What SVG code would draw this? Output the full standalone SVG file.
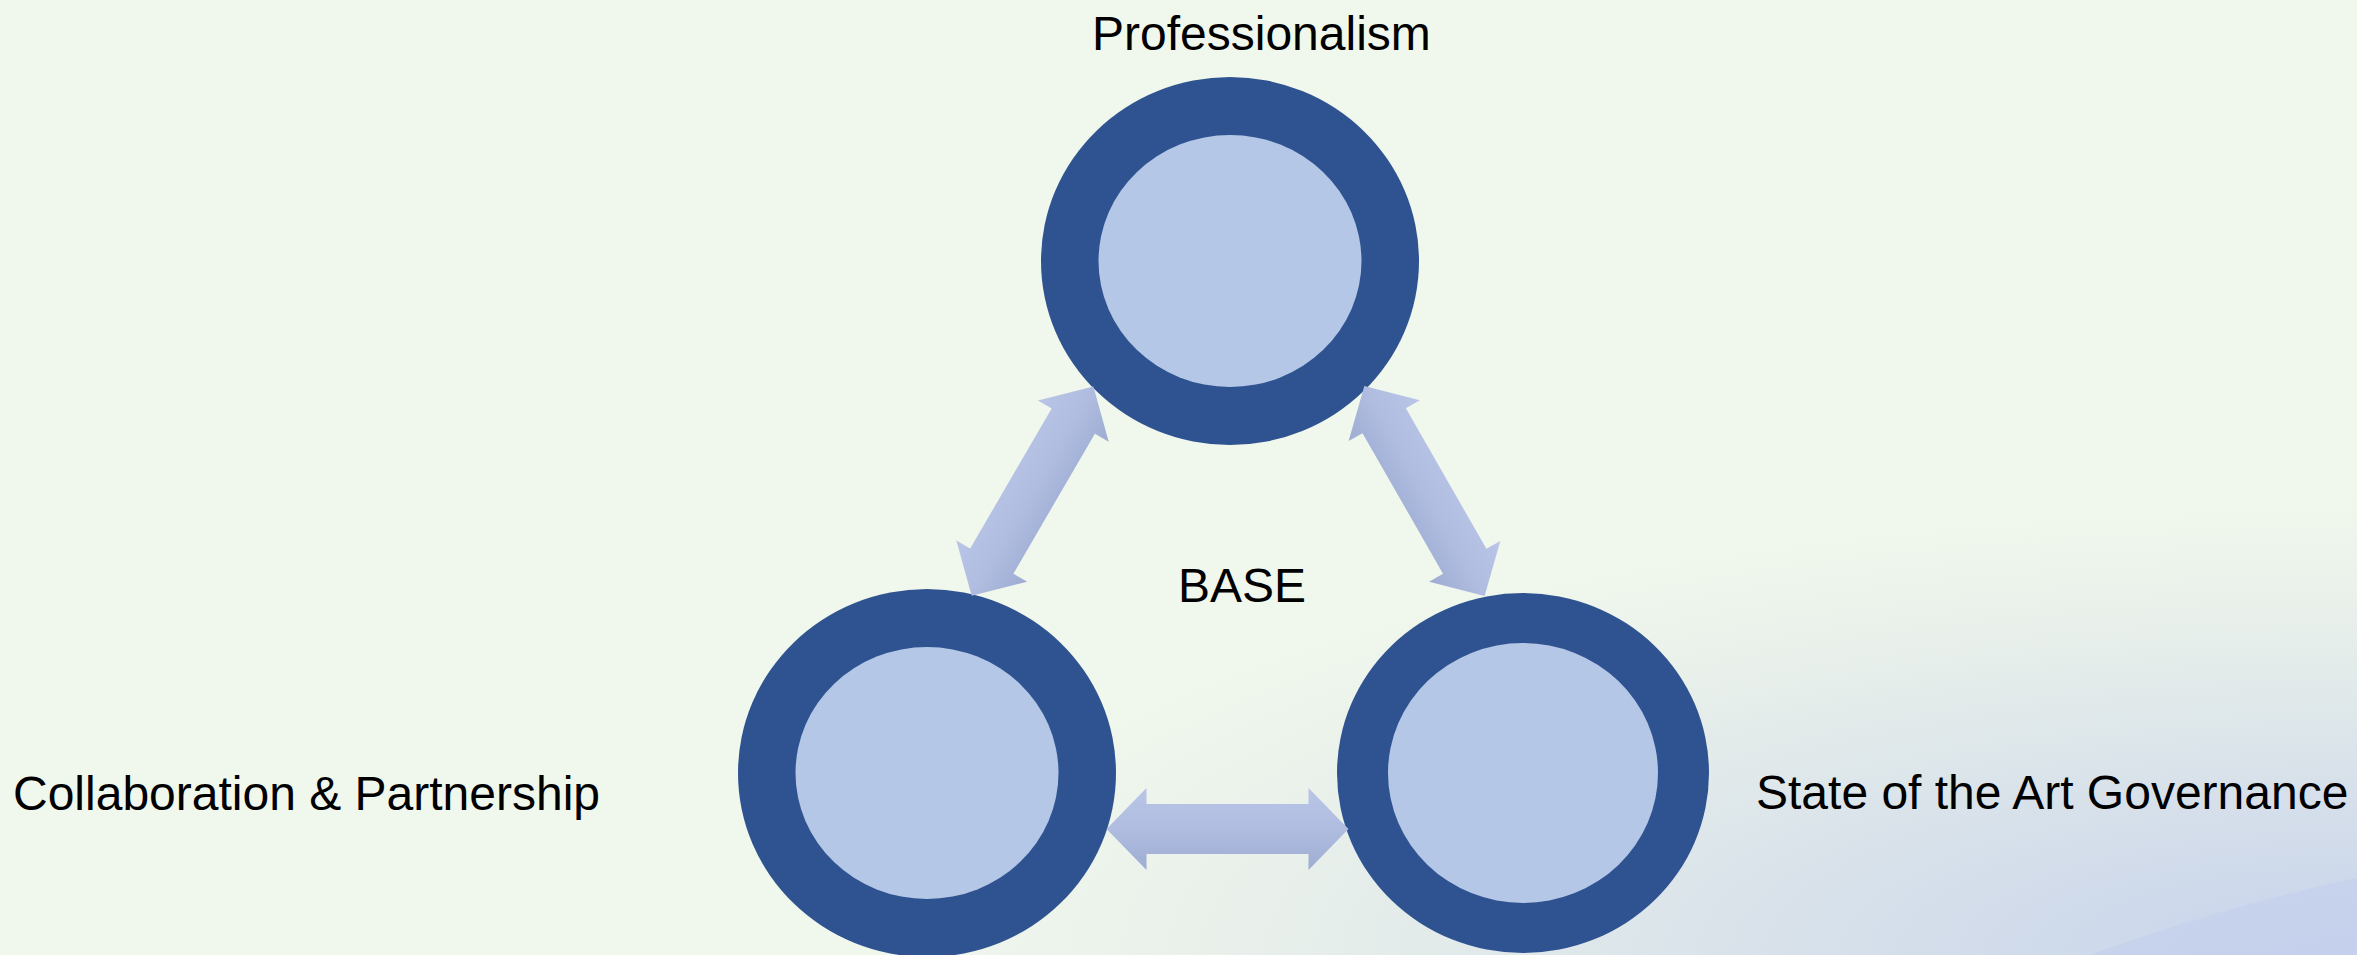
<svg xmlns="http://www.w3.org/2000/svg" xmlns:xlink="http://www.w3.org/1999/xlink" width="2357" height="955" viewBox="0 0 2357 955">
  <style>
    .ring { fill: #2f5390; }
    .core { fill: #b4c7e7; }
    .label { font-family: "Liberation Sans", Arial, sans-serif; font-size: 48px; fill: #000; }
    .arrow { fill: url(#arrowShade); }
  </style>
  <defs>
    <radialGradient id="bgTint" gradientUnits="userSpaceOnUse" cx="2357" cy="955" r="1" gradientTransform="translate(2357 955) scale(1500 460) translate(-2357 -955)">
      <stop offset="0" stop-color="#c6d2ec"/>
      <stop offset="0.45" stop-color="#dbe4ea"/>
      <stop offset="0.8" stop-color="#ebf2eb"/>
      <stop offset="1" stop-color="#f0f7ec"/>
    </radialGradient>
    <!-- shading across the arrow width: light on the +y side, dark on the -y side -->
    <linearGradient id="arrowShade" x1="0" y1="1" x2="0" y2="0">
      <stop offset="0" stop-color="#b9c5e7"/>
      <stop offset="0.5" stop-color="#b0bde0"/>
      <stop offset="1" stop-color="#9eacd3"/>
    </linearGradient>
    <!-- double-headed block arrow, tip at origin pointing along +x -->
    <path id="dblArrow" class="arrow" d="M0,0 L40,41 L40,25 L202,25 L202,41 L242,0 L202,-41 L202,-25 L40,-25 L40,-41 Z"/>
  </defs>

  <!-- background -->
  <rect width="2357" height="955" fill="#f0f7ec"/>
  <rect width="2357" height="955" fill="url(#bgTint)"/>
  <path d="M2090,955 Q2230,905 2357,878 L2357,955 Z" fill="#c2ceed" opacity="0.55"/>

  <g id="node-professionalism">
    <ellipse class="ring" cx="1230" cy="261" rx="189" ry="184"/>
    <ellipse class="core" cx="1230" cy="261" rx="131.5" ry="126"/>
    <text class="label" x="1092" y="50">Professionalism</text>
  </g>

  <g id="node-collaboration">
    <ellipse class="ring" cx="927" cy="773" rx="189" ry="184"/>
    <ellipse class="core" cx="927" cy="773" rx="131.5" ry="126"/>
    <text class="label" x="13" y="810">Collaboration &amp; Partnership</text>
  </g>

  <g id="node-governance">
    <ellipse class="ring" cx="1523" cy="773" rx="186" ry="180"/>
    <ellipse class="core" cx="1523" cy="773" rx="135" ry="130"/>
    <text class="label" x="1756" y="809">State of the Art Governance</text>
  </g>

  <g id="node-base">
    <text class="label" x="1178" y="602">BASE</text>
  </g>

  <g id="connectors">
    <use xlink:href="#dblArrow" transform="translate(1093.4 386.5) rotate(120.2)"/>
    <use xlink:href="#dblArrow" transform="translate(1484.6 596) rotate(-119.8)"/>
    <use xlink:href="#dblArrow" transform="translate(1348.5 829) rotate(180)"/>
  </g>
</svg>
